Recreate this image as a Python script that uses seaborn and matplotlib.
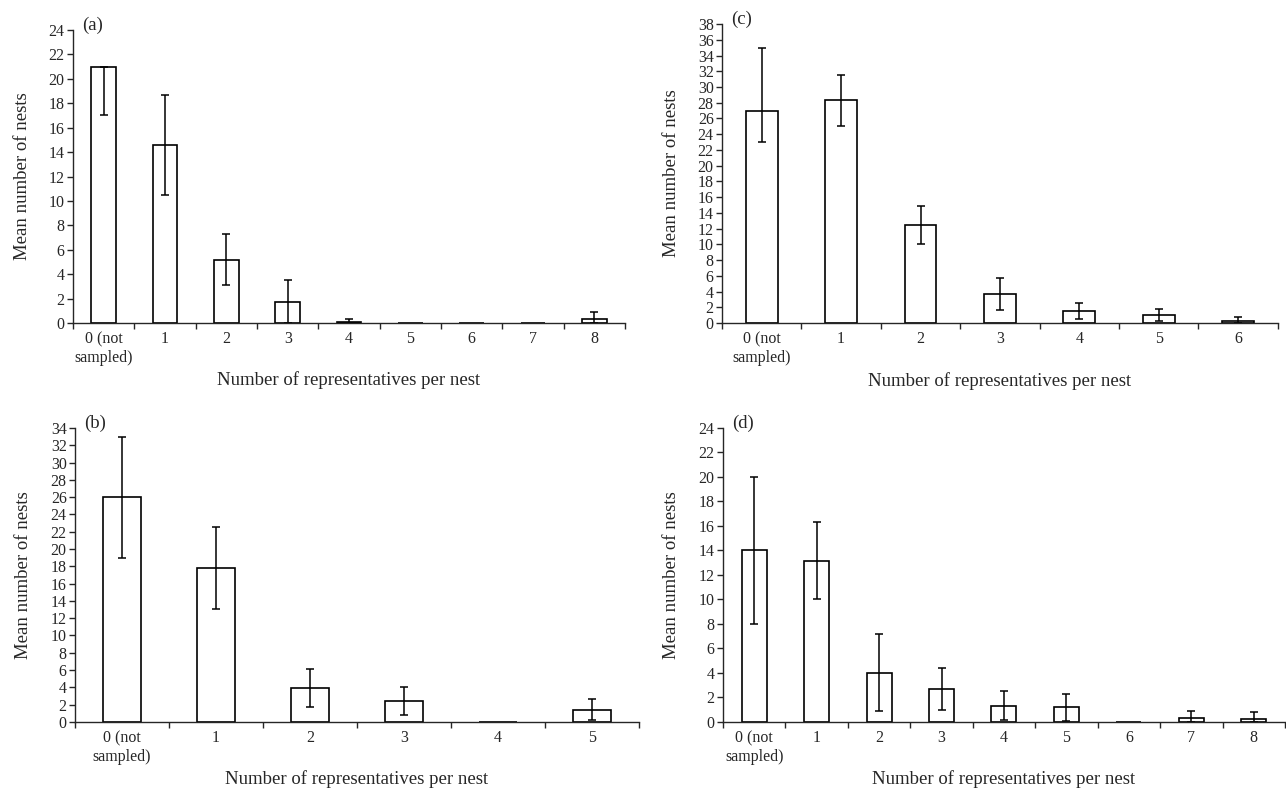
import numpy as np
import pandas as pd
import matplotlib.pyplot as plt
import seaborn as sns

sns.set_style("ticks")
plt.rcParams['font.family'] = ['Liberation Serif', 'DejaVu Serif']

# panel (a)
a_cats = ['0 (not\nsampled)', '1', '2', '3', '4', '5', '6', '7', '8']
a_mean = [21.0, 14.6, 5.2, 1.7, 0.1, 0.0, 0.0, 0.0, 0.3]
a_low = [17.0, 10.5, 3.1, 0.0, 0.0, None, None, None, 0.0]
a_high = [21.0, 18.7, 7.3, 3.5, 0.3, None, None, None, 0.9]

# panel (b)
b_cats = ['0 (not\nsampled)', '1', '2', '3', '4', '5']
b_mean = [26.0, 17.8, 3.9, 2.4, 0.0, 1.4]
b_low = [19.0, 13.1, 1.7, 0.8, None, 0.2]
b_high = [33.0, 22.6, 6.1, 4.1, None, 2.6]

# panel (c)
c_cats = ['0 (not\nsampled)', '1', '2', '3', '4', '5', '6']
c_mean = [27.0, 28.3, 12.5, 3.7, 1.5, 1.0, 0.25]
c_low = [23.0, 25.1, 10.1, 1.7, 0.5, 0.2, 0.0]
c_high = [35.0, 31.5, 14.9, 5.7, 2.5, 1.8, 0.7]

# panel (d)
d_cats = ['0 (not\nsampled)', '1', '2', '3', '4', '5', '6', '7', '8']
d_mean = [14.0, 13.1, 4.0, 2.7, 1.3, 1.2, 0.0, 0.35, 0.25]
d_low = [8.0, 10.0, 0.9, 1.0, 0.2, 0.1, None, 0.0, 0.0]
d_high = [20.0, 16.3, 7.2, 4.4, 2.5, 2.3, None, 0.9, 0.8]


def draw_panel(ax, cats, mean, low, high, ymax, tag):
    df = pd.DataFrame({'cat': cats, 'mean': mean})
    sns.barplot(data=df, x='cat', y='mean', order=cats, color='white',
                edgecolor='black', linewidth=1.2, width=0.4, errorbar=None,
                saturation=1, ax=ax)

    # asymmetric error bars at the seaborn category positions
    for i, (m, lo, hi) in enumerate(zip(mean, low, high)):
        if lo is None:
            continue
        ax.errorbar(i, m, yerr=[[m - lo], [hi - m]], fmt='none',
                    ecolor='black', elinewidth=1.1, capsize=3,
                    capthick=1.1)

    n = len(cats)
    ax.set_xlim(-0.5, n - 0.5)
    ax.set_ylim(0, ymax)
    ax.set_yticks(np.arange(0, ymax + 1, 2))
    ax.set_xticks(range(n))
    ax.set_xticks(np.arange(-0.5, n, 1.0), minor=True)
    ax.tick_params(axis='x', which='major', length=0, labelsize=11.5, pad=6)
    ax.tick_params(axis='x', which='minor', length=4, width=1, direction='out')
    ax.tick_params(axis='y', length=4, width=1, labelsize=11.5, pad=2)

    sns.despine(ax=ax)
    ax.spines['left'].set_linewidth(1.0)
    ax.spines['bottom'].set_linewidth(1.0)

    ax.set_xlabel('Number of representatives per nest', fontsize=13.5)
    ax.set_ylabel('Mean number of nests', fontsize=13.5)
    ax.xaxis.set_label_coords(0.5, -0.165)
    ax.yaxis.set_label_coords(-0.076, 0.5)
    ax.xaxis.label.set_va('top')
    ax.text(0.035, 1.015, tag, transform=ax.transAxes, fontsize=13.5,
            ha='center', va='center')


fig = plt.figure(figsize=(12.86, 7.88), dpi=100)
ax_a = fig.add_axes([0.0568, 0.5901, 0.4292, 0.3718])
ax_c = fig.add_axes([0.5614, 0.5901, 0.4323, 0.3794])
ax_b = fig.add_axes([0.0583, 0.0838, 0.4386, 0.3731])
ax_d = fig.add_axes([0.5622, 0.0838, 0.4370, 0.3731])

draw_panel(ax_a, a_cats, a_mean, a_low, a_high, 24, '(a)')
draw_panel(ax_c, c_cats, c_mean, c_low, c_high, 38, '(c)')
draw_panel(ax_b, b_cats, b_mean, b_low, b_high, 34, '(b)')
draw_panel(ax_d, d_cats, d_mean, d_low, d_high, 24, '(d)')

plt.savefig("out.png", dpi=100)
print("saved out.png")
